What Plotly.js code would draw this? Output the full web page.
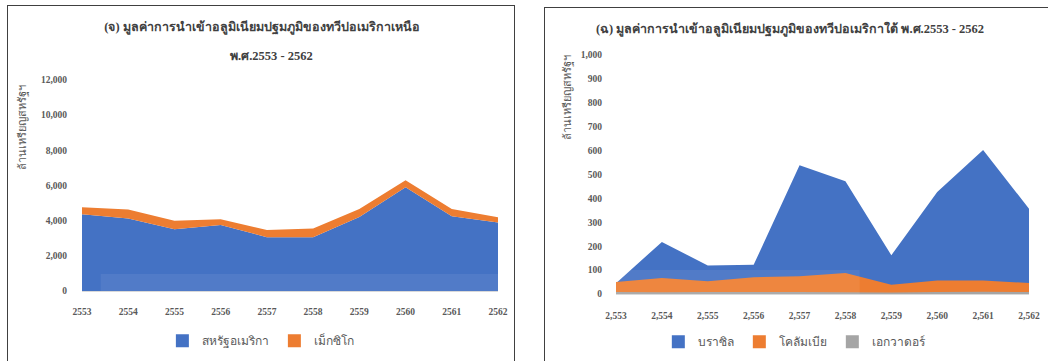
<!DOCTYPE html>
<html>
<head>
<meta charset="utf-8">
<script src="https://cdn.plot.ly/plotly-3.0.1.min.js"></script>
<style>
  html, body { margin: 0; padding: 0; background: #ffffff; width: 1048px; height: 361px; overflow: hidden; }
  #left { position: absolute; left: 7px; top: 5px; width: 508px; height: 360px; border: 1.5px solid #404040; box-sizing: border-box; }
  #right { position: absolute; left: 544px; top: 7px; width: 512px; height: 360px; border: 1.5px solid #404040; box-sizing: border-box; }
</style>
</head>
<body>
<div id="left"></div>
<div id="right"></div>
<script>
// ---------- data ----------
const years = [2553, 2554, 2555, 2556, 2557, 2558, 2559, 2560, 2561, 2562];

// North America (stacked), million USD
const naNames = ["สหรัฐอเมริกา", "เม็กซิโก"];
const usa    = [4360, 4130, 3510, 3750, 3060, 3060, 4210, 5900, 4250, 3890];
const mexico = [410, 510, 490, 325, 410, 500, 450, 400, 410, 300];

// South America (overlapping areas), million USD
const saNames = ["บราซิล", "โคลัมเบีย", "เอกวาดอร์"];
const brazil   = [45, 218, 119, 122, 539, 472, 162, 427, 602, 357];
const colombia = [50, 67, 53, 70, 74, 88, 39, 57, 57, 46];
const ecuador  = [8, 7, 8, 8, 8, 7, 6, 8, 9, 8];

const leftTitle1 = "(จ) มูลค่าการนำเข้าอลูมิเนียมปฐมภูมิของทวีปอเมริกาเหนือ";
const leftTitle2 = "พ.ศ.2553 - 2562";
const rightTitle = "(ฉ) มูลค่าการนำเข้าอลูมิเนียมปฐมภูมิของทวีปอเมริกาใต้ พ.ศ.2553 - 2562";
const yTitle = "ล้านเหรียญสหรัฐฯ";

// ---------- style ----------
const BLUE = "#4472C4", ORANGE = "#ED7D31", GREY = "#A5A5A5";
const SERIF = "Liberation Serif, Times New Roman, Noto Sans, DejaVu Sans, serif";
const tickFont = { family: SERIF, size: 9.5, color: "#595959", weight: "bold" };
const legendFont = { family: "Noto Sans, DejaVu Sans, sans-serif", size: 12, color: "#595959" };
const titleFont = { family: SERIF, size: 12.5, color: "#404040", weight: "bold" };

function legendTrace(name, color) {
  return { x: [null], y: [null], type: "scatter", mode: "markers", name: name,
           marker: { symbol: "square", size: 13, color: color }, hoverinfo: "skip" };
}

// ---------- left chart ----------
const leftData = [
  { x: years, y: usa, type: "scatter", mode: "lines", stackgroup: "na", name: naNames[0],
    line: { width: 0, color: BLUE }, fillcolor: BLUE, showlegend: false },
  { x: years, y: mexico, type: "scatter", mode: "lines", stackgroup: "na", name: naNames[1],
    line: { width: 0, color: ORANGE }, fillcolor: ORANGE, showlegend: false },
  legendTrace(naNames[0], BLUE),
  legendTrace(naNames[1], ORANGE)
];

const leftLayout = {
  width: 508, height: 360,
  margin: { l: 74, r: 18, t: 74, b: 74 },
  paper_bgcolor: "rgba(0,0,0,0)", plot_bgcolor: "rgba(0,0,0,0)",
  showlegend: true,
  legend: { orientation: "h", traceorder: "normal", x: 0.43, xanchor: "center", y: -0.23, yanchor: "middle",
            font: legendFont, itemwidth: 30, tracegroupgap: 0 },
  title: { text: leftTitle1, x: 0.5, xanchor: "center", xref: "container",
           y: 1 - 21 / 360, yref: "container", yanchor: "middle", font: titleFont },
  xaxis: { range: [2553, 2562], tickvals: years, ticktext: years.map(String),
           showgrid: false, zeroline: false, showline: true, linecolor: "#d9d9d9", linewidth: 1,
           ticks: "", tickfont: tickFont, ticklabelstandoff: 12, fixedrange: true },
  yaxis: { range: [0, 12000], dtick: 2000, tickformat: ",", showgrid: false, zeroline: false,
           showline: false, ticks: "", tickfont: tickFont, ticklabelstandoff: 14, fixedrange: true },
  annotations: [
    { text: leftTitle2, xref: "paper", yref: "paper", x: 0.455, y: 1 + (74 - 50) / 212,
      xanchor: "center", yanchor: "middle", showarrow: false, font: titleFont },
    { text: yTitle, xref: "paper", yref: "paper", x: (15 - 74) / 416, y: (286 - 122) / 212,
      xanchor: "center", yanchor: "middle", showarrow: false, textangle: -90,
      font: { family: SERIF, size: 11, color: "#595959" } }
  ],
  shapes: [
    { type: "rect", xref: "paper", yref: "paper", x0: 0.045, x1: 1, y0: 0, y1: 17 / 212,
      fillcolor: "rgba(255,255,255,0.07)", line: { width: 0 }, layer: "above" }
  ]
};

// ---------- right chart ----------
const rightData = [
  { x: years, y: brazil, type: "scatter", mode: "none", fill: "tozeroy", name: saNames[0],
    fillcolor: BLUE, showlegend: false },
  { x: years, y: colombia, type: "scatter", mode: "none", fill: "tozeroy", name: saNames[1],
    fillcolor: ORANGE, showlegend: false },
  { x: years, y: ecuador, type: "scatter", mode: "none", fill: "tozeroy", name: saNames[2],
    fillcolor: GREY, showlegend: false },
  legendTrace(saNames[0], BLUE),
  legendTrace(saNames[1], ORANGE),
  legendTrace(saNames[2], GREY)
];

const rightLayout = {
  width: 512, height: 360,
  margin: { l: 71, r: 28, t: 47, b: 74 },
  paper_bgcolor: "rgba(0,0,0,0)", plot_bgcolor: "rgba(0,0,0,0)",
  showlegend: true,
  legend: { orientation: "h", traceorder: "normal", x: 0.433, xanchor: "center", y: -0.2, yanchor: "middle",
            font: legendFont, itemwidth: 30, tracegroupgap: 0 },
  title: { text: rightTitle, x: 245 / 512, xanchor: "center", xref: "container",
           y: 1 - 21 / 360, yref: "container", yanchor: "middle", font: titleFont },
  xaxis: { range: [2553, 2562], tickvals: years, tickformat: ",",
           showgrid: false, zeroline: false, showline: true, linecolor: "#d9d9d9", linewidth: 1,
           ticks: "", tickfont: tickFont, ticklabelstandoff: 13, fixedrange: true },
  yaxis: { range: [0, 1000], dtick: 100, tickformat: ",", showgrid: false, zeroline: false,
           showline: false, ticks: "", tickfont: tickFont, ticklabelstandoff: 13, fixedrange: true },
  annotations: [
    { text: yTitle, xref: "paper", yref: "paper", x: (23 - 71) / 413, y: (285.7 - 90) / 238.3,
      xanchor: "center", yanchor: "middle", showarrow: false, textangle: -90,
      font: { family: SERIF, size: 11, color: "#595959" } }
  ],
  shapes: [
    { type: "rect", xref: "paper", yref: "paper", x0: 0, x1: 0.59, y0: 0, y1: 24 / 238.3,
      fillcolor: "rgba(255,255,255,0.07)", line: { width: 0 }, layer: "above" }
  ]
};

const cfg = { staticPlot: true, displayModeBar: false };
Plotly.newPlot("left", leftData, leftLayout, cfg);
Plotly.newPlot("right", rightData, rightLayout, cfg);
</script>
</body>
</html>
